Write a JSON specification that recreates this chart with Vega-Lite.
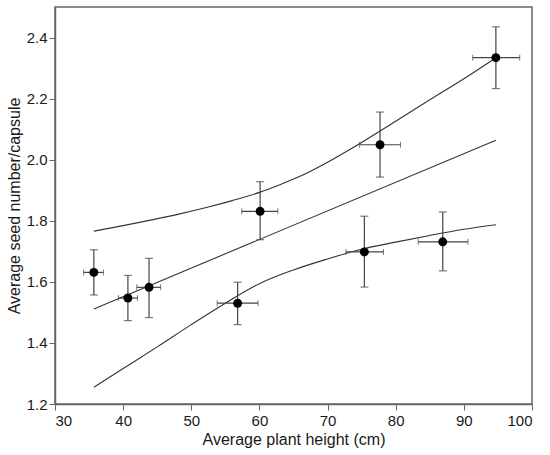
{
  "$schema": "https://vega.github.io/schema/vega-lite/v6.json",
  "autosize": "none",
  "width": 477,
  "height": 397,
  "padding": {"left": 55, "top": 7, "right": 18, "bottom": 51},
  "datasets": {
    "points": [
      {"h": 35.7, "hlo": 34.2, "hhi": 37.1, "s": 1.631, "slo": 1.557, "shi": 1.705},
      {"h": 40.7, "hlo": 39.3, "hhi": 42.1, "s": 1.547, "slo": 1.473, "shi": 1.621},
      {"h": 43.8, "hlo": 42.0, "hhi": 45.5, "s": 1.582, "slo": 1.483, "shi": 1.677},
      {"h": 56.8, "hlo": 53.8, "hhi": 59.8, "s": 1.530, "slo": 1.460, "shi": 1.599},
      {"h": 60.1, "hlo": 57.4, "hhi": 62.7, "s": 1.831, "slo": 1.738, "shi": 1.928},
      {"h": 75.4, "hlo": 72.7, "hhi": 78.2, "s": 1.698, "slo": 1.583, "shi": 1.815},
      {"h": 77.7, "hlo": 74.7, "hhi": 80.7, "s": 2.049, "slo": 1.943, "shi": 2.156},
      {"h": 86.9, "hlo": 83.3, "hhi": 90.6, "s": 1.731, "slo": 1.636, "shi": 1.829},
      {"h": 94.7, "hlo": 91.3, "hhi": 98.2, "s": 2.334, "slo": 2.233, "shi": 2.435}
    ],
    "fit": [
      {"series": "fit", "x": 35.7, "y": 1.511},
      {"series": "fit", "x": 94.7, "y": 2.064},
      {"series": "upper", "x": 35.7, "y": 1.766},
      {"series": "upper", "x": 40, "y": 1.784},
      {"series": "upper", "x": 44.2, "y": 1.803},
      {"series": "upper", "x": 48, "y": 1.821},
      {"series": "upper", "x": 52.5, "y": 1.845},
      {"series": "upper", "x": 56, "y": 1.866},
      {"series": "upper", "x": 60, "y": 1.893},
      {"series": "upper", "x": 63, "y": 1.918},
      {"series": "upper", "x": 65.7, "y": 1.943},
      {"series": "upper", "x": 69.6, "y": 1.987},
      {"series": "upper", "x": 74.5, "y": 2.050},
      {"series": "upper", "x": 80, "y": 2.126},
      {"series": "upper", "x": 85, "y": 2.196},
      {"series": "upper", "x": 90, "y": 2.265},
      {"series": "upper", "x": 94.7, "y": 2.334},
      {"series": "lower", "x": 35.7, "y": 1.255},
      {"series": "lower", "x": 40, "y": 1.316},
      {"series": "lower", "x": 45, "y": 1.387},
      {"series": "lower", "x": 50, "y": 1.460},
      {"series": "lower", "x": 55, "y": 1.530},
      {"series": "lower", "x": 60, "y": 1.594},
      {"series": "lower", "x": 65, "y": 1.639},
      {"series": "lower", "x": 70, "y": 1.675},
      {"series": "lower", "x": 75, "y": 1.707},
      {"series": "lower", "x": 80, "y": 1.730},
      {"series": "lower", "x": 85, "y": 1.752},
      {"series": "lower", "x": 90, "y": 1.772},
      {"series": "lower", "x": 94.7, "y": 1.787}
    ]
  },
  "layer": [
    {
      "data": {"name": "fit"},
      "mark": {"type": "line", "color": "#333333", "strokeWidth": 1.1, "interpolate": "monotone"},
      "encoding": {
        "x": {"field": "x", "type": "quantitative", "scale": {"domain": [30, 100], "nice": false},
              "axis": {"values": [30, 40, 50, 60, 70, 80, 90, 100], "title": "Average plant height (cm)"}},
        "y": {"field": "y", "type": "quantitative", "scale": {"domain": [1.2, 2.5], "nice": false, "zero": false},
              "axis": {"values": [1.2, 1.4, 1.6, 1.8, 2.0, 2.2, 2.4], "format": ".1f", "title": "Average seed number/capsule"}},
        "detail": {"field": "series"}
      }
    },
    {
      "data": {"name": "points"},
      "mark": {"type": "rule", "color": "#444444", "strokeWidth": 1.2},
      "encoding": {
        "x": {"field": "h", "type": "quantitative"},
        "y": {"field": "slo", "type": "quantitative"},
        "y2": {"field": "shi"}
      }
    },
    {
      "data": {"name": "points"},
      "mark": {"type": "rule", "color": "#444444", "strokeWidth": 1.2},
      "encoding": {
        "x": {"field": "hlo", "type": "quantitative"},
        "x2": {"field": "hhi"},
        "y": {"field": "s", "type": "quantitative"}
      }
    },
    {
      "data": {"name": "points"},
      "mark": {"type": "tick", "orient": "horizontal", "color": "#444444", "size": 8, "thickness": 1.2},
      "encoding": {
        "x": {"field": "h", "type": "quantitative"},
        "y": {"field": "slo", "type": "quantitative"}
      }
    },
    {
      "data": {"name": "points"},
      "mark": {"type": "tick", "orient": "horizontal", "color": "#444444", "size": 8, "thickness": 1.2},
      "encoding": {
        "x": {"field": "h", "type": "quantitative"},
        "y": {"field": "shi", "type": "quantitative"}
      }
    },
    {
      "data": {"name": "points"},
      "mark": {"type": "tick", "orient": "vertical", "color": "#444444", "size": 6, "thickness": 1},
      "encoding": {
        "x": {"field": "hlo", "type": "quantitative"},
        "y": {"field": "s", "type": "quantitative"}
      }
    },
    {
      "data": {"name": "points"},
      "mark": {"type": "tick", "orient": "vertical", "color": "#444444", "size": 6, "thickness": 1},
      "encoding": {
        "x": {"field": "hhi", "type": "quantitative"},
        "y": {"field": "s", "type": "quantitative"}
      }
    },
    {
      "data": {"name": "points"},
      "mark": {"type": "circle", "color": "#000000", "opacity": 1, "size": 80},
      "encoding": {
        "x": {"field": "h", "type": "quantitative"},
        "y": {"field": "s", "type": "quantitative"}
      }
    }
  ],
  "config": {
    "font": "Liberation Sans",
    "view": {"stroke": "#666666", "strokeWidth": 1.5},
    "axis": {
      "grid": false,
      "domainColor": "#666666",
      "domainWidth": 1.5,
      "tickColor": "#666666",
      "tickSize": 6,
      "labelFontSize": 15,
      "labelColor": "#1a1a1a",
      "labelFont": "Liberation Sans",
      "titleFontSize": 16,
      "titleFontWeight": "normal",
      "titleColor": "#1a1a1a",
      "titleFont": "Liberation Sans"
    },
    "axisX": {"labelPadding": 3, "titlePadding": 3},
    "axisY": {"labelPadding": 2, "titlePadding": 4}
  }
}
